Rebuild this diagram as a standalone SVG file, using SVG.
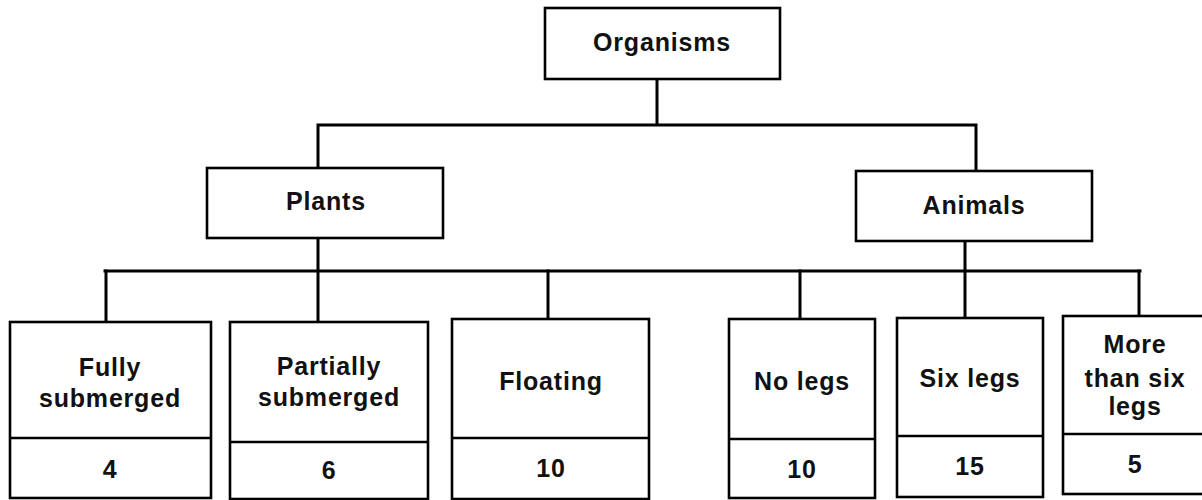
<svg xmlns="http://www.w3.org/2000/svg" width="1202" height="500" viewBox="0 0 1202 500">
  <style>
    .box { fill: #ffffff; stroke: #000000; stroke-width: 2.6; }
    .div { stroke: #000000; stroke-width: 2.4; fill: none; }
    .wire { stroke: #000000; stroke-width: 3; fill: none; stroke-linecap: square; }
    text { font-family: "Liberation Sans", Arial, sans-serif; font-weight: bold; font-size: 25px; letter-spacing: 0.8px; fill: #111111; text-anchor: middle; }
  </style>
  <rect width="1202" height="500" fill="#ffffff"/>

  <!-- tree connectors -->
  <g id="connectors">
    <path class="wire" d="M657,79 V125 M318,125 H976 M318,125 V168 M976,125 V171"/>
    <path class="wire" d="M318,238 V322 M965,241 V318 M105,271 H1140"/>
    <path class="wire" d="M106,271 V322 M548,271 V319 M800,271 V319 M1139,271 V316"/>
  </g>

  <g id="organisms">
    <rect class="box" x="545" y="8" width="235" height="71"/>
    <text x="662" y="51">Organisms</text>
  </g>

  <g id="plants">
    <rect class="box" x="207" y="168" width="236" height="70"/>
    <text x="326" y="210">Plants</text>
  </g>

  <g id="animals">
    <rect class="box" x="856" y="171" width="236" height="70"/>
    <text x="974" y="214">Animals</text>
  </g>

  <g id="fully-submerged">
    <rect class="box" x="10" y="322" width="201" height="176"/>
    <line class="div" x1="10" y1="438" x2="211" y2="438"/>
    <text x="110" y="376">Fully</text>
    <text x="110" y="407">submerged</text>
    <text x="110" y="478">4</text>
  </g>

  <g id="partially-submerged">
    <rect class="box" x="230" y="322" width="198" height="177"/>
    <line class="div" x1="230" y1="442" x2="428" y2="442"/>
    <text x="329" y="375">Partially</text>
    <text x="329" y="406">submerged</text>
    <text x="329" y="479">6</text>
  </g>

  <g id="floating">
    <rect class="box" x="452" y="319" width="197" height="180"/>
    <line class="div" x1="452" y1="438" x2="649" y2="438"/>
    <text x="551" y="390">Floating</text>
    <text x="551" y="477">10</text>
  </g>

  <g id="no-legs">
    <rect class="box" x="729" y="319" width="146" height="179"/>
    <line class="div" x1="729" y1="439" x2="875" y2="439"/>
    <text x="802" y="390">No legs</text>
    <text x="802" y="478">10</text>
  </g>

  <g id="six-legs">
    <rect class="box" x="897" y="318" width="146" height="179"/>
    <line class="div" x1="897" y1="436" x2="1043" y2="436"/>
    <text x="970" y="387">Six legs</text>
    <text x="970" y="475">15</text>
  </g>

  <g id="more-than-six-legs">
    <rect class="box" x="1063" y="316" width="146" height="178"/>
    <line class="div" x1="1063" y1="434" x2="1209" y2="434"/>
    <text x="1135" y="353">More</text>
    <text x="1135" y="387">than six</text>
    <text x="1135" y="415">legs</text>
    <text x="1135" y="473">5</text>
  </g>
</svg>
